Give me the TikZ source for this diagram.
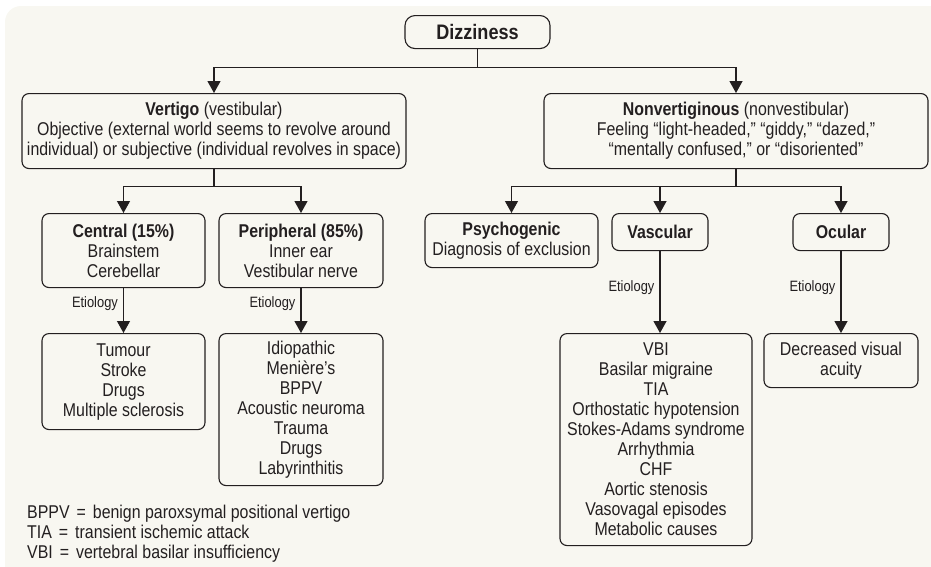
\documentclass[tikz,border=0pt]{standalone}
\usepackage{fontspec}
\setmainfont{Liberation Sans}[FakeStretch=0.86]
\usetikzlibrary{arrows.meta}
\definecolor{bgcream}{RGB}{248,247,241}
\definecolor{inkgray}{RGB}{35,31,32}
\tikzset{
  box/.style={draw=inkgray, line width=1.1pt, rounded corners=7pt, align=center,
    inner sep=0pt, anchor=north, text=inkgray, font=\fontsize{18.5}{20}\selectfont},
  link/.style={draw=inkgray, line width=1.2pt},
  arr/.style={link, -{Triangle[width=13pt,length=12pt]}},
  etio/.style={left, inner sep=5pt, text=inkgray, font=\fontsize{15}{16}\selectfont},
}
\newcommand\eqsign{\hspace{7pt}=\hspace{7pt}}
\begin{document}
\begin{tikzpicture}[x=1pt, y=-1pt]
   \clip (0,0) rectangle (931,566);
   \fill[bgcream, rounded corners=16pt] (5,6) rectangle (960,600);

   % top
   \node[box, rounded corners=10pt, minimum width=145pt, minimum height=33pt,
         font=\fontsize{21}{22}\selectfont\bfseries] (dizzy) at (477.5,15) {Dizziness};
   \node[box, minimum width=384pt, minimum height=75pt] (vert) at (214,93)
     {\textbf{Vertigo} (vestibular)\\
      Objective (external world seems to revolve around\\
      individual) or subjective (individual revolves in space)};
   \node[box, minimum width=384pt, minimum height=75pt] (nonvert) at (736,93)
     {\textbf{Nonvertiginous} (nonvestibular)\\
      Feeling “light-headed,” “giddy,” “dazed,”\\
      “mentally confused,” or “disoriented”};

   % vertigo side
   \node[box, minimum width=163pt, minimum height=74pt] (central) at (123.5,213)
     {\textbf{Central (15\%)}\\Brainstem\\Cerebellar};
   \node[box, minimum width=164pt, minimum height=74pt] (periph) at (301,213)
     {\textbf{Peripheral (85\%)}\\Inner ear\\Vestibular nerve};
   \node[box, minimum width=163pt, minimum height=96pt] (tumour) at (123.5,333)
     {Tumour\\Stroke\\Drugs\\Multiple sclerosis};
   \node[box, minimum width=164pt, minimum height=152pt] (idio) at (301,333)
     {Idiopathic\\Menière’s\\BPPV\\Acoustic neuroma\\Trauma\\Drugs\\Labyrinthitis};

   % nonvertiginous side
   \node[box, minimum width=173pt, minimum height=54pt] (psycho) at (511.5,213)
     {\textbf{Psychogenic}\\Diagnosis of exclusion};
   \node[box, minimum width=96pt, minimum height=37pt] (vasc) at (660,213)
     {\textbf{Vascular}};
   \node[box, minimum width=96pt, minimum height=37pt] (ocular) at (841,213)
     {\textbf{Ocular}};
   \node[box, minimum width=192pt, minimum height=212pt] (vbi) at (656,333)
     {VBI\\Basilar migraine\\TIA\\Orthostatic hypotension\\Stokes-Adams syndrome\\
      Arrhythmia\\CHF\\Aortic stenosis\\Vasovagal episodes\\Metabolic causes};
   \node[box, minimum width=154pt, minimum height=54pt] (visual) at (841,333)
     {Decreased visual\\acuity};

   % legend
   \node[anchor=west, align=left, inner sep=0pt, text=inkgray,
         font=\fontsize{18.5}{20}\selectfont] (legend) at (27,534)
     {BPPV\eqsign benign paroxsymal positional vertigo\\
      TIA\eqsign transient ischemic attack\\
      VBI\eqsign vertebral basilar insufficiency};

   % connectors
   \draw[link] (dizzy.south) -- ++(0,18) coordinate (jtop);
   \draw[arr] (jtop) -| (vert.north);
   \draw[arr] (jtop) -| (nonvert.north);
   \draw[link] (vert.south) -- ++(0,17) coordinate (jvert);
   \foreach \n in {central,periph}
     \draw[arr] (jvert) -| (\n.north);
   \draw[link] (nonvert.south) -- ++(0,17) coordinate (jnon);
   \foreach \n in {psycho,vasc,ocular}
     \draw[arr] (jnon) -| (\n.north);
   \foreach \a/\b/\p in {central/tumour/0.35, periph/idio/0.35,
                         vasc/vbi/0.45, ocular/visual/0.45}
     \draw[arr] (\a.south) -- (\a.south |- \b.north) node[etio, pos=\p] {Etiology};
\end{tikzpicture}
\end{document}
